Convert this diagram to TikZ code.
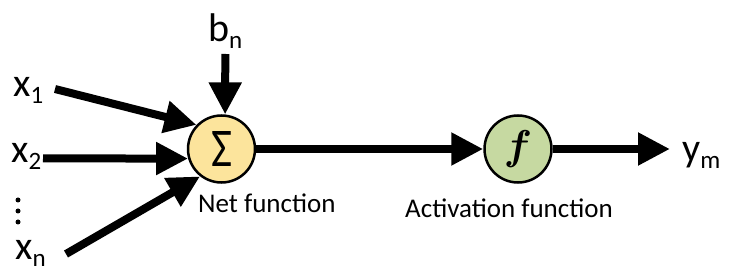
\documentclass[tikz,border=0pt]{standalone}
\usepackage{fontspec}
\setmainfont{Carlito}
\usetikzlibrary{arrows.meta}
\definecolor{sumfill}{HTML}{FCE49C}
\definecolor{actfill}{HTML}{C6D9A1}
\tikzset{
  arr/.style={line width=8pt, -{Triangle[length=32pt,width=31pt]}},
  neuron/.style={circle, draw, line width=2.5pt, minimum size=67pt, inner sep=0pt},
  big/.style={font=\fontsize{40}{48}\selectfont, inner sep=0pt, anchor=base west},
  caplab/.style={font=\fontsize{27}{32}\selectfont, inner sep=0pt, anchor=base west},
}
\newcommand{\lowsub}[1]{\raisebox{-6.5pt}{\fontsize{25}{30}\selectfont #1}}
\begin{document}
\begin{tikzpicture}[x=1pt,y=-1pt]
\useasboundingbox (0,0) rectangle (731,275);
\node[neuron, fill=sumfill] (sum) at (221.5,149) {\resizebox{21pt}{35pt}{\fontsize{33}{33}\selectfont Σ}};
\node[neuron, fill=actfill] (act) at (518,149) {\resizebox*{!}{37pt}{\boldmath$f$}};
\node[big] (x1) at (13,97) {x\lowsub{1}};
\node[big] (x2) at (11,163) {x\lowsub{2}};
\node[big] (xn) at (15,260) {x\lowsub{n}};
\node[big] (bn) at (208,42) {b\lowsub{n}};
\node[big] (ym) at (682,162) {y\lowsub{m}};
\node[caplab] (net) at (198,213) {Net function};
\node[caplab] (actlab) at (405,218) {Activation function};
\coordinate (x1s) at (55,89);
\coordinate (x2s) at (43,158.4);
\coordinate (xns) at (66,254);
\coordinate (bns) at (225.3,54);
\coordinate (yme) at (670,149);
\draw[arr] (x1s) -- (sum.136);
\draw[arr] (x2s) -- (sum.196);
\draw[arr] (xns) -- (sum.232);
\draw[arr] (bns) -- (sum.84);
\draw[arr] (sum) -- (act);
\draw[arr] (act) -- (yme);
\fill (18,200) circle (2.5pt);
\fill (18,211) circle (2.5pt);
\fill (18,222) circle (2.5pt);
\end{tikzpicture}
\end{document}
